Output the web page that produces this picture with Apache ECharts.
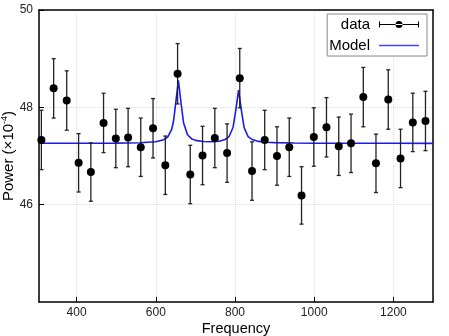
<!DOCTYPE html>
<html>
<head>
<meta charset="utf-8">
<script src="https://cdn.jsdelivr.net/npm/echarts@6/dist/echarts.min.js"></script>
<style>
html,body{margin:0;padding:0;background:#fff;}
#c{width:449px;height:336px;}
</style>
</head>
<body>
<div id="c"></div>
<script>
// Data
var freq = [311,342,375,405,436,468,499,530,562,593,624,655,687,718,749,780,812,843,875,906,937,968,999,1031,1062,1093,1124,1156,1187,1218,1249,1281];
var power = [47.33,48.39,48.14,46.86,46.67,47.68,47.36,47.38,47.18,47.57,46.81,48.69,46.62,47.01,47.37,47.06,48.60,46.69,47.33,47.00,47.18,46.19,47.39,47.59,47.20,47.26,48.21,46.85,48.16,46.95,47.69,47.72];
var powerErr = [0.61,0.61,0.61,0.60,0.60,0.61,0.60,0.60,0.60,0.61,0.60,0.62,0.60,0.60,0.61,0.60,0.61,0.60,0.61,0.60,0.60,0.59,0.60,0.61,0.60,0.60,0.61,0.60,0.61,0.60,0.60,0.61];
var modelFreq = [305,400,500,560,600,620,630,640,645,650,657,664,670,680,690,700,720,740,760,775,785,795,802,809,816,823,833,843,860,880,900,950,1000,1100,1200,1300];
var modelPower = [47.261,47.262,47.265,47.272,47.293,47.335,47.39,47.545,47.73,48.07,48.554,48.068,47.683,47.437,47.356,47.321,47.297,47.293,47.305,47.339,47.40,47.585,47.944,48.355,47.943,47.583,47.40,47.34,47.30,47.283,47.275,47.267,47.263,47.261,47.261,47.26];

var pts = freq.map(function(f,i){return [f, power[i]];});
var errData = freq.map(function(f,i){return [f, power[i]-powerErr[i], power[i]+powerErr[i]];});
var model = modelFreq.map(function(f,i){return [f, modelPower[i]];});

var chart = echarts.init(document.getElementById('c'), null, {renderer:'canvas'});
var font = 'Liberation Sans, Arial, sans-serif';
var frameLine = {show:true, onZero:false, lineStyle:{color:'#000', width:1.5}};
chart.setOption({
  animation:false,
  backgroundColor:'#fff',
  textStyle:{fontFamily:font},
  grid:{left:39,right:16,top:10,bottom:34,show:false,containLabel:false,outerBoundsMode:'none'},
  legend:{
    right:22, top:14, orient:'vertical', align:'right',
    itemWidth:40, itemHeight:10, itemGap:6,
    padding:[3,8,3,2],
    borderColor:'#888', borderWidth:1, backgroundColor:'#fff',
    textStyle:{fontSize:15,color:'#000',fontFamily:font,padding:[0,4,0,0]},
    data:[
      {name:'data', icon:'path://M0,4.4 L40,4.4 L40,5.6 L0,5.6 Z M0,2 L1,2 L1,8 L0,8 Z M39,2 L40,2 L40,8 L39,8 Z M16.5,5 A3.5,3.5 0 1,0 23.5,5 A3.5,3.5 0 1,0 16.5,5 Z', itemStyle:{color:'#000',opacity:1}},
      {name:'Model', icon:'path://M0,4.2 L40,4.2 L40,5.8 L0,5.8 Z', itemStyle:{color:'#4444ff'}}
    ]
  },
  xAxis:[{
    type:'value', min:305, max:1300, splitNumber:5, position:'bottom',
    name:'Frequency', nameLocation:'middle', nameGap:19, nameMoveOverlap:false,
    nameTextStyle:{fontSize:14.5,color:'#000',fontFamily:font},
    axisLine:frameLine,
    axisTick:{show:true,inside:true,length:5,lineStyle:{color:'#000',width:1}},
    axisLabel:{fontSize:12,color:'#222',margin:5,showMinLabel:false,showMaxLabel:false,fontFamily:font,
      formatter:function(v){return String(Math.round(v));}},
    splitLine:{show:true,lineStyle:{color:'#ddd',type:'dotted',width:1}}
  },{
    type:'value', min:305, max:1300, position:'top',
    axisLine:frameLine, axisTick:{show:false}, axisLabel:{show:false}, splitLine:{show:false}
  }],
  yAxis:[{
    type:'value', min:44, max:50, interval:2, position:'left',
    name:'Power (×10{sup|-4})', nameLocation:'middle', nameGap:22, nameRotate:90, nameMoveOverlap:false,
    nameTextStyle:{fontSize:15,color:'#000',fontFamily:font,
      rich:{sup:{fontSize:9,color:'#000',fontFamily:font,padding:[0,0,8,0]}}},
    axisLine:frameLine,
    axisTick:{show:true,inside:true,length:5,lineStyle:{color:'#000',width:1}},
    axisLabel:{fontSize:12,color:'#222',margin:6,showMinLabel:false,fontFamily:font,
      formatter:function(v){return String(Math.round(v));}},
    splitLine:{show:true,lineStyle:{color:'#ddd',type:'dotted',width:1}}
  },{
    type:'value', min:44, max:50, position:'right',
    axisLine:frameLine, axisTick:{show:false}, axisLabel:{show:false}, splitLine:{show:false}
  }],
  series:[
    {
      name:'Model', type:'line', data:model, showSymbol:false, symbol:'none',
      lineStyle:{color:'#1a1aee',width:1.6}, itemStyle:{color:'#4444ff'}, z:2, silent:true
    },
    {
      name:'data', type:'custom', data:errData, z:3, silent:true,
      itemStyle:{color:'#000'},
      encode:{x:0,y:[1,2]},
      renderItem:function(params, api){
        var x = api.value(0);
        var lo = api.coord([x, api.value(1)]);
        var hi = api.coord([x, api.value(2)]);
        var w = 2;
        var st = {stroke:'#222', lineWidth:1.3};
        return {type:'group', children:[
          {type:'line', shape:{x1:lo[0],y1:lo[1],x2:hi[0],y2:hi[1]}, style:st},
          {type:'line', shape:{x1:lo[0]-w,y1:lo[1],x2:lo[0]+w,y2:lo[1]}, style:st},
          {type:'line', shape:{x1:hi[0]-w,y1:hi[1],x2:hi[0]+w,y2:hi[1]}, style:st}
        ]};
      }
    },
    {
      name:'data', type:'scatter', data:pts, symbol:'circle', symbolSize:8,
      itemStyle:{color:'#000',opacity:1}, z:4, silent:true
    }
  ]
});
</script>
</body>
</html>
